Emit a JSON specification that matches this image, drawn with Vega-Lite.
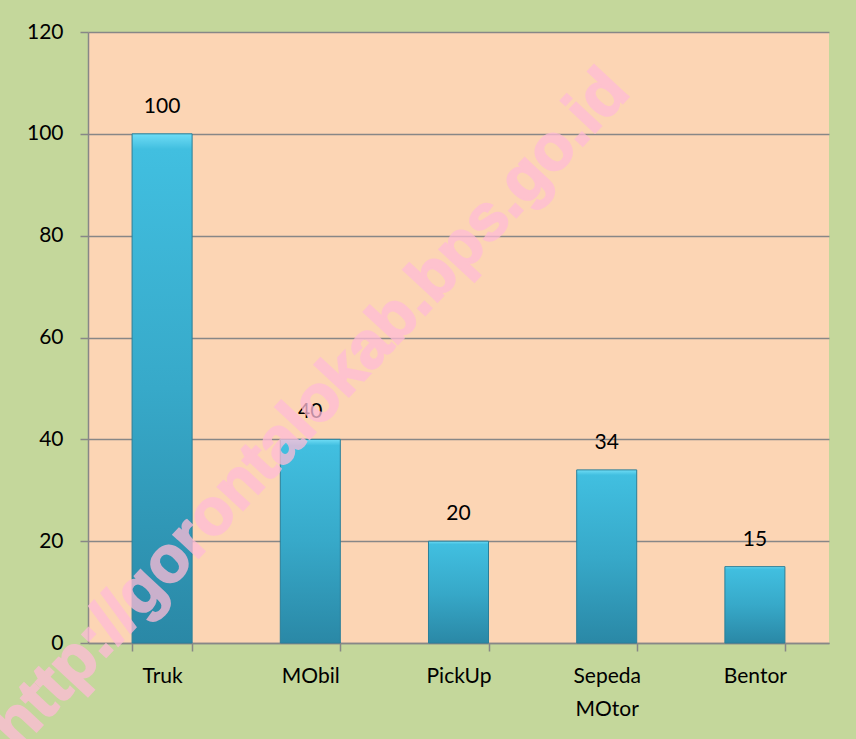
{
  "$schema": "https://vega.github.io/schema/vega-lite/v6.json",
  "width": 741,
  "height": 611,
  "autosize": "none",
  "padding": {"left": 88, "top": 32, "right": 27, "bottom": 96},
  "background": "#c4d79b",
  "config": {
    "view": {"fill": "#fcd5b4", "stroke": null},
    "font": "Lato"
  },
  "data": {
    "values": [
      {"jenis": "Truk", "jumlah": 100},
      {"jenis": "MObil", "jumlah": 40},
      {"jenis": "PickUp", "jumlah": 20},
      {"jenis": "Sepeda MOtor", "jumlah": 34},
      {"jenis": "Bentor", "jumlah": 15}
    ]
  },
  "encoding": {
    "x": {
      "field": "jenis",
      "type": "nominal",
      "sort": null,
      "scale": {"paddingInner": 0.595, "paddingOuter": 0.2975},
      "axis": {
        "title": null,
        "labelAngle": 0,
        "labelFont": "Lato",
        "labelFontSize": 21,
        "labelColor": "#000000",
        "labelPadding": 14,
        "labelLineHeight": 33,
        "labelExpr": "split(datum.label, ' ')",
        "tickBand": "extent",
        "tickSize": 8,
        "tickColor": "#878787",
        "tickWidth": 1.5,
        "domainColor": "#878787",
        "domainWidth": 1.5,
        "grid": false
      }
    },
    "y": {
      "field": "jumlah",
      "type": "quantitative",
      "scale": {"domain": [0, 120], "nice": false},
      "axis": {
        "title": null,
        "values": [0, 20, 40, 60, 80, 100, 120],
        "labelFont": "Lato",
        "labelFontSize": 21,
        "labelColor": "#000000",
        "labelPadding": 17,
        "tickSize": 8,
        "tickColor": "#878787",
        "tickWidth": 1.5,
        "domainColor": "#878787",
        "domainWidth": 1.5,
        "grid": true,
        "gridColor": "#878787",
        "gridWidth": 1.5
      }
    }
  },
  "layer": [
    {
      "mark": {
        "type": "bar",
        "stroke": "#2a7f99",
        "strokeWidth": 1,
        "color": {
          "gradient": "linear",
          "x1": 0, "y1": 0, "x2": 0, "y2": 1,
          "stops": [
            {"offset": 0, "color": "#6fdcf5"},
            {"offset": 0.03, "color": "#41bfe0"},
            {"offset": 0.5, "color": "#37a9c9"},
            {"offset": 1, "color": "#2a88a6"}
          ]
        }
      }
    },
    {
      "mark": {
        "type": "text",
        "baseline": "middle",
        "align": "center",
        "dy": -27,
        "font": "Lato",
        "fontSize": 21,
        "color": "#000000"
      },
      "encoding": {"text": {"field": "jumlah", "type": "quantitative"}}
    },
    {
      "data": {"values": [{"jenis": "MObil", "jumlah": 46, "tanda": "http://gorontalokab.bps.go.id"}]},
      "mark": {
        "type": "text",
        "angle": -47,
        "align": "center",
        "baseline": "middle",
        "font": "Liberation Sans",
        "fontWeight": "bold",
        "fontSize": 65,
        "fill": "#ffbcd7",
        "stroke": "#ffbcd7",
        "strokeWidth": 2,
        "opacity": 0.75
      },
      "encoding": {"text": {"field": "tanda", "type": "nominal"}}
    }
  ]
}
